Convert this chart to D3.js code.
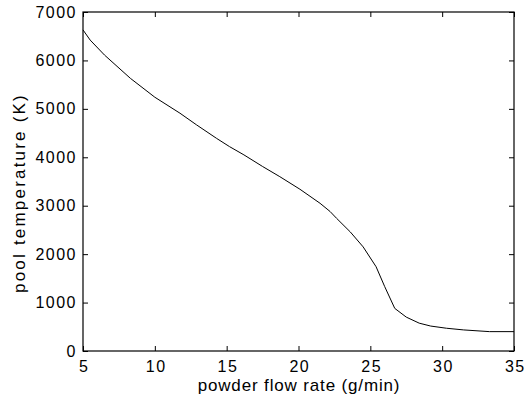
<!DOCTYPE html>
<html>
<head>
<meta charset="utf-8">
<script src="https://cdn.jsdelivr.net/npm/d3@7"></script>
<style>
  html, body { margin: 0; padding: 0; background: #fff; }
  svg { display: block; }
  text { font-family: "Liberation Sans", Arial, Helvetica, sans-serif; fill: #000; }
</style>
</head>
<body>
<svg id="chart" width="526" height="402"></svg>
<script>
// Data
const flowRate = [5, 5.5, 6.5, 8.3, 10, 11.75, 12.9, 14.3, 15.2, 16.2, 17.5, 18.7, 20.1, 21.5, 22.2, 22.65, 23.6, 24.5, 25.4, 26.0, 26.7, 27.5, 28.4, 29.2, 30.3, 31.5, 33.3, 35];
const poolTemp = [6630, 6420, 6110, 5630, 5240, 4910, 4670, 4390, 4220, 4050, 3810, 3600, 3340, 3050, 2880, 2740, 2460, 2150, 1740, 1330, 880, 700, 575, 515, 470, 435, 400, 400];
const xTicks = [5, 10, 15, 20, 25, 30, 35];
const yTicks = [0, 1000, 2000, 3000, 4000, 5000, 6000, 7000];
const xLabel = "powder flow rate (g/min)";
const yLabel = "pool temperature (K)";

const svg = d3.select("#chart");
const L = 83, R = 514, T = 12, B = 351;
const x = d3.scaleLinear().domain([5, 35]).range([L, R]);
const y = d3.scaleLinear().domain([0, 7000]).range([B, T]);

// Axes (ticks inward)
const tickFont = g => g.selectAll("text")
  .style("font-size", "16px").style("letter-spacing", "1.5px");

const gx = svg.append("g").attr("transform", `translate(0,${B})`)
  .call(d3.axisBottom(x).tickValues(xTicks).tickSizeInner(-5).tickSizeOuter(0).tickPadding(10).tickFormat(d3.format("d")));
gx.call(tickFont);
gx.selectAll("text").attr("dx", "0.05em");

const gy = svg.append("g").attr("transform", `translate(${L},0)`)
  .call(d3.axisLeft(y).tickValues(yTicks).tickSizeInner(-5).tickSizeOuter(0).tickPadding(6).tickFormat(d3.format("d")));
gy.call(tickFont);

const gt = svg.append("g").attr("transform", `translate(0,${T})`)
  .call(d3.axisTop(x).tickValues(xTicks).tickSizeInner(-5).tickSizeOuter(0).tickFormat(""));
const gr = svg.append("g").attr("transform", `translate(${R},0)`)
  .call(d3.axisRight(y).tickValues(yTicks).tickSizeInner(-5).tickSizeOuter(0).tickFormat(""));

[gx, gy, gt, gr].forEach(g => {
  g.select(".domain").remove();
  g.selectAll(".tick line").attr("stroke", "#000").attr("stroke-width", 1);
});

// Box
svg.append("rect")
  .attr("x", L).attr("y", T).attr("width", R - L).attr("height", B - T)
  .attr("fill", "none").attr("stroke", "#000").attr("stroke-width", 1.2);

// Curve
const pts = flowRate.map((v, i) => [v, poolTemp[i]]);
svg.append("path")
  .datum(pts)
  .attr("fill", "none")
  .attr("stroke", "#000")
  .attr("stroke-width", 1)
  .attr("d", d3.line().x(d => x(d[0])).y(d => y(d[1])));

// Axis labels
svg.append("text")
  .attr("x", 299).attr("y", 391)
  .attr("text-anchor", "middle")
  .style("font-size", "17px").style("letter-spacing", "0.85px")
  .text(xLabel);

svg.append("text")
  .attr("transform", "translate(25,193) rotate(-90)")
  .attr("text-anchor", "middle")
  .style("font-size", "17px").style("letter-spacing", "2.2px")
  .text(yLabel);
</script>
</body>
</html>
